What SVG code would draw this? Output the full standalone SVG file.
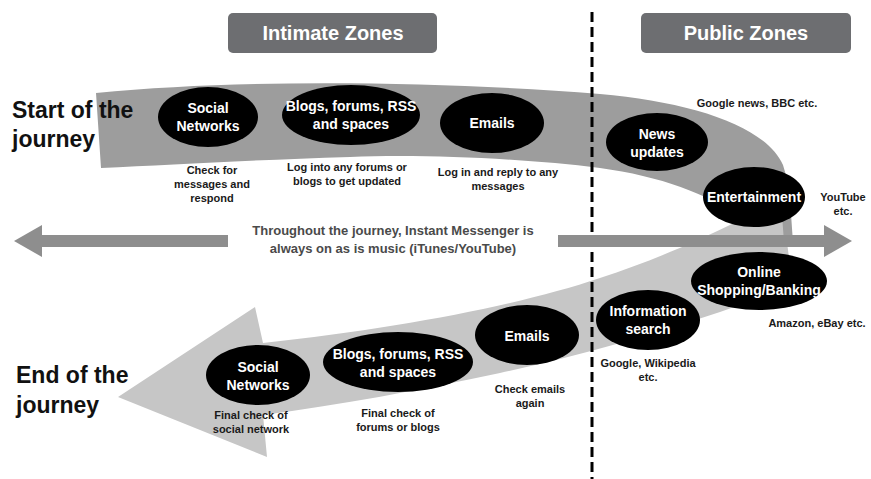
<svg xmlns="http://www.w3.org/2000/svg" width="871" height="479" viewBox="0 0 871 479">
<style>
.ell{fill:#000;}
.nt{font-family:"Liberation Sans",Arial,sans-serif;font-weight:bold;font-size:14px;fill:#fff;text-anchor:middle;}
.cap{font-family:"Liberation Sans",Arial,sans-serif;font-weight:bold;font-size:11px;fill:#1a1a1a;text-anchor:middle;}
.head{font-family:"Liberation Sans",Arial,sans-serif;font-weight:bold;font-size:23px;fill:#111;}
.zone{fill:#6d6e71;}
.zt{font-family:"Liberation Sans",Arial,sans-serif;font-weight:bold;font-size:20px;fill:#fff;text-anchor:middle;}
.mid{font-family:"Liberation Sans",Arial,sans-serif;font-weight:bold;font-size:13px;fill:#4a4a4a;text-anchor:middle;}
</style>
<rect width="871" height="479" fill="#fff"/>
<g id="zones">
<rect class="zone" x="228" y="13" width="209" height="40" rx="5"/>
<text class="zt" x="333" y="40">Intimate Zones</text>
<rect class="zone" x="641" y="13" width="210" height="40" rx="5"/>
<text class="zt" x="746" y="40">Public Zones</text>
</g>
<g id="flow">
<path d="M263,415 C340,405 420,390 500,373 C580,356 650,335 720,312 C760,298 786,285 790,265 L783,212 L740,220 C700,240 650,262 600,278 C520,305 400,328 263,343 L255,307 L118,397 L267,457 Z" fill="#c6c6c6"/>
<path d="M96,93 C250,78 450,82 600,94 C690,102 765,125 783,165 C790,185 791,215 793,242 L784,242 L782,215 L740,220 L735,215 C710,195 660,176 600,168 C520,158 420,154 350,157 C250,160 170,165 101,168 Z" fill="#9d9d9d"/>
</g>
<g id="connectors">
<line x1="592" y1="12" x2="592" y2="479" stroke="#000" stroke-width="3" stroke-dasharray="10 5"/>
<polygon points="14,241 42,225 42,235 228,235 228,247 42,247 42,257" fill="#8e8e8e"/>
<polygon points="558,235 824,235 824,225 852,241 824,257 824,247 558,247" fill="#8e8e8e"/>
</g>
<g id="labels">
<text class="head" x="12" y="118">Start of the</text>
<text class="head" x="12" y="147">journey</text>
<text class="head" x="16" y="383">End of the</text>
<text class="head" x="16" y="413">journey</text>
<text class="mid" x="393" y="235">Throughout the journey, Instant Messenger is</text>
<text class="mid" x="393" y="253">always on as is music (iTunes/YouTube)</text>
</g>
<g id="social-start">
<ellipse class="ell" cx="208" cy="117" rx="50" ry="30"/>
<text class="nt" x="208" y="113">Social</text>
<text class="nt" x="208" y="131">Networks</text>
<text class="cap" x="212" y="174">Check for</text>
<text class="cap" x="212" y="188">messages and</text>
<text class="cap" x="212" y="202">respond</text>
</g>
<g id="blogs-start">
<ellipse class="ell" cx="351" cy="115" rx="69" ry="30"/>
<text class="nt" x="351" y="111" font-size="13.5">Blogs, forums, RSS</text>
<text class="nt" x="351" y="129" font-size="13.5">and spaces</text>
<text class="cap" x="347" y="171">Log into any forums or</text>
<text class="cap" x="347" y="185">blogs to get updated</text>
</g>
<g id="emails-start">
<ellipse class="ell" cx="492" cy="123" rx="52" ry="30"/>
<text class="nt" x="492" y="128">Emails</text>
<text class="cap" x="498" y="176">Log in and reply to any</text>
<text class="cap" x="498" y="190">messages</text>
</g>
<g id="news">
<ellipse class="ell" cx="657" cy="142" rx="51" ry="29"/>
<text class="nt" x="657" y="139">News</text>
<text class="nt" x="657" y="157">updates</text>
<text class="cap" x="757" y="107">Google news, BBC etc.</text>
</g>
<g id="entertainment">
<ellipse class="ell" cx="754" cy="197" rx="51" ry="30"/>
<text class="nt" x="754" y="202">Entertainment</text>
<text class="cap" x="843" y="201">YouTube</text>
<text class="cap" x="843" y="215">etc.</text>
</g>
<g id="shopping">
<ellipse class="ell" cx="759" cy="281" rx="68" ry="29"/>
<text class="nt" x="759" y="277">Online</text>
<text class="nt" x="759" y="295">Shopping/Banking</text>
<text class="cap" x="817" y="327">Amazon, eBay etc.</text>
</g>
<g id="search">
<ellipse class="ell" cx="648" cy="320" rx="52" ry="30"/>
<text class="nt" x="648" y="316">Information</text>
<text class="nt" x="648" y="334">search</text>
<text class="cap" x="648" y="367">Google, Wikipedia</text>
<text class="cap" x="648" y="381">etc.</text>
</g>
<g id="emails-end">
<ellipse class="ell" cx="527" cy="335" rx="52" ry="30"/>
<text class="nt" x="527" y="341">Emails</text>
<text class="cap" x="530" y="393">Check emails</text>
<text class="cap" x="530" y="407">again</text>
</g>
<g id="blogs-end">
<ellipse class="ell" cx="398" cy="362" rx="75" ry="30"/>
<text class="nt" x="398" y="359" font-size="13.5">Blogs, forums, RSS</text>
<text class="nt" x="398" y="377" font-size="13.5">and spaces</text>
<text class="cap" x="398" y="417">Final check of</text>
<text class="cap" x="398" y="431">forums or blogs</text>
</g>
<g id="social-end">
<ellipse class="ell" cx="258" cy="375" rx="52" ry="30"/>
<text class="nt" x="258" y="372">Social</text>
<text class="nt" x="258" y="390">Networks</text>
<text class="cap" x="251" y="419">Final check of</text>
<text class="cap" x="251" y="433">social network</text>
</g>
</svg>
